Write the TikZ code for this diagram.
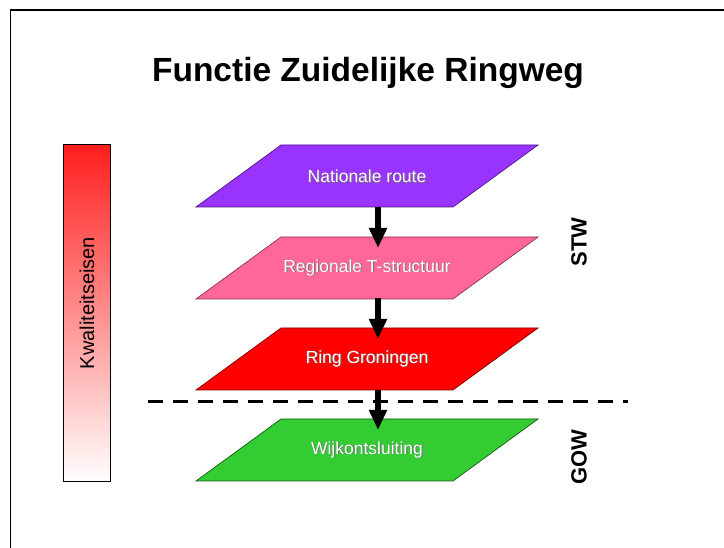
\documentclass[tikz,border=0pt]{standalone}
\usepackage{fontspec}
\setmainfont{Liberation Sans}
\usetikzlibrary{arrows.meta}

\definecolor{natfill}{RGB}{153,51,255}
\definecolor{natline}{RGB}{80,20,140}
\definecolor{regfill}{RGB}{255,102,153}
\definecolor{regline}{RGB}{140,50,80}
\definecolor{ringfill}{RGB}{255,0,0}
\definecolor{ringline}{RGB}{130,0,0}
\definecolor{wijkfill}{RGB}{51,204,51}
\definecolor{wijkline}{RGB}{20,90,20}
\definecolor{bartop}{RGB}{255,30,30}
\definecolor{barmid}{RGB}{255,140,140}

% white lettering with a soft grey drop shadow
\newcommand\embossed[1]{\leavevmode\rlap{\kern0.9pt\raisebox{-0.9pt}{\color{black!55}#1}}{\color{white}#1}}

% one level: top edge y, fill colour, edge colour
\newcommand\levelplane[3]{%
  \filldraw[fill=#2, draw=#3, line width=0.7pt]
    (196,{#1+62}) -- (453,{#1+62}) -- (538,#1) -- (281,#1) -- cycle;}

\tikzset{
  leveltext/.style={font=\fontsize{17.5}{20}\selectfont, inner sep=0pt},
  flowarrow/.style={line width=5.5pt, -{Triangle[width=17pt,length=20pt]}},
  sidelabel/.style={font=\bfseries\fontsize{22}{26}\selectfont, rotate=90, inner sep=0pt},
}

\begin{document}
\begin{tikzpicture}[x=1pt,y=-1pt]
\useasboundingbox (0,0) rectangle (724,548);
\fill[white] (0,0) rectangle (724,548);

% frame
\draw[line width=2pt] (10.5,10) -- (724,10);
\draw[line width=1.3pt] (10.5,9) -- (10.5,548);

% title
\node[font=\bfseries\fontsize{33.5}{38}\selectfont, inner sep=0pt] (title) at (368,73) {Functie Zuidelijke Ringweg};

% quality requirement bar
\shade[top color=bartop, middle color=barmid, bottom color=white] (63,145) rectangle (110,482);
\draw[line width=1pt] (63,145) rectangle (110,482);
\node[font=\fontsize{20}{24}\selectfont, rotate=90, inner sep=0pt] (kwal) at (87,303) {Kwaliteitseisen};

% levels
\levelplane{145}{natfill}{natline}
\levelplane{237}{regfill}{regline}
\levelplane{328}{ringfill}{ringline}
\levelplane{419}{wijkfill}{wijkline}

\node[leveltext] (nat)  at (367,177) {\embossed{Nationale route}};
\node[leveltext] (reg)  at (367,268) {\embossed{Regionale T-structuur}};
\node[leveltext] (ring) at (367,359) {\embossed{Ring Groningen}};
\node[leveltext] (wijk) at (367,450) {\embossed{Wijkontsluiting}};

% arrow end points on the level edges
\coordinate (nat-b)  at (378,207);
\coordinate (reg-t)  at (378,248);
\coordinate (reg-b)  at (378,298);
\coordinate (ring-t) at (378,339);
\coordinate (ring-b) at (378,390);
\coordinate (wijk-t) at (378,430);

% boundary between the two road networks
\draw[line width=3pt, dash pattern=on 15pt off 10pt] (148,402) -- (628,402);

\draw[flowarrow] (nat-b) -- (reg-t);
\draw[flowarrow] (reg-b) -- (ring-t);
\draw[flowarrow] (ring-b) -- (wijk-t);

% network labels
\node[sidelabel] (stw) at (579,242) {STW};
\node[sidelabel] (gow) at (579,457) {GOW};
\end{tikzpicture}
\end{document}
